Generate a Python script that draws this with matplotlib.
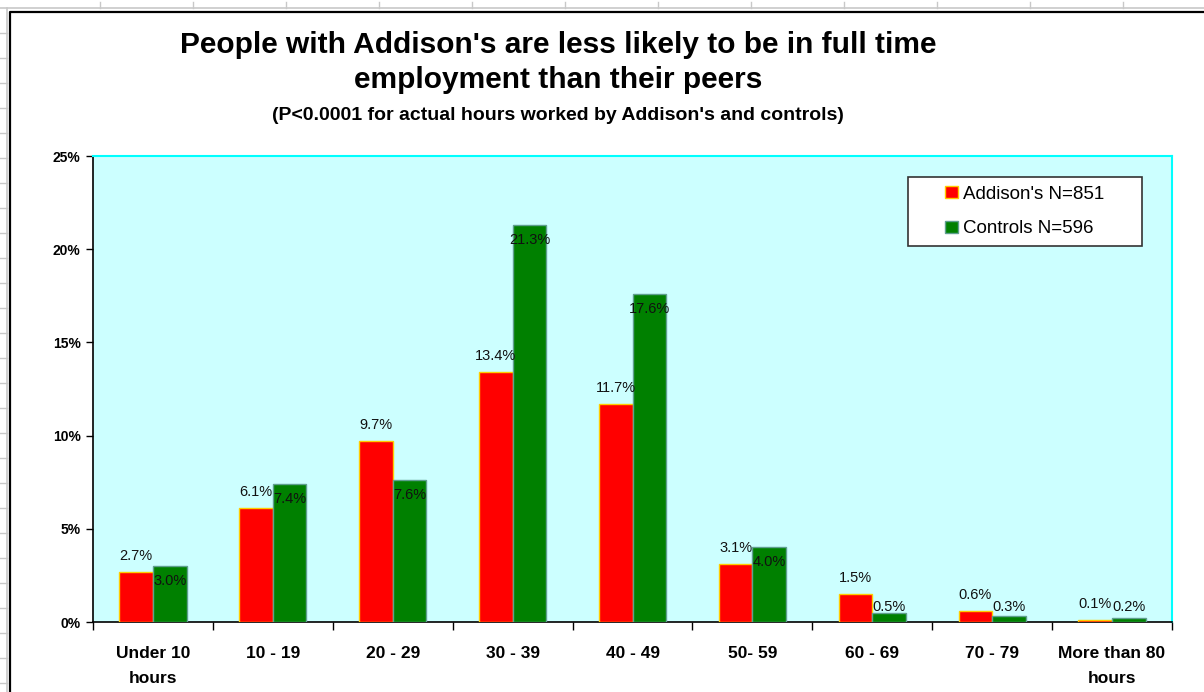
import matplotlib
matplotlib.use("Agg")
import matplotlib.pyplot as plt
from matplotlib.lines import Line2D
from matplotlib.patches import Rectangle
import numpy as np

plt.rcParams['font.family'] = ['Liberation Sans', 'DejaVu Sans']

# hours worked per week, share of each group (%)
categories = ["Under 10\nhours", "10 - 19", "20 - 29", "30 - 39", "40 - 49",
              "50- 59", "60 - 69", "70 - 79", "More than 80\nhours"]
addisons = [2.7, 6.1, 9.7, 13.4, 11.7, 3.1, 1.5, 0.6, 0.1]
controls = [3.0, 7.4, 7.6, 21.3, 17.6, 4.0, 0.5, 0.3, 0.2]
series_names = ["Addison's N=851", "Controls N=596"]
y_ticks = [0, 5, 10, 15, 20, 25]

W, H = 1204, 692
fig = plt.figure(figsize=(W / 100, H / 100), dpi=100)
fig.patch.set_facecolor("white")


def px(x, y):
    # pixel position -> figure fraction
    return x / W, 1 - y / H


# spreadsheet gridlines around the chart object
grid_col = "#c8c8c8"
fig.add_artist(Line2D([0, 1], [1 - 8 / H] * 2, color=grid_col, lw=1.2))
fig.add_artist(Line2D([7 / W] * 2, [0, 1 - 8 / H], color=grid_col, lw=1.2))
for gx in np.arange(100, W, 93):
    fig.add_artist(Line2D([gx / W] * 2, [1 - 2 / H, 1 - 8 / H], color=grid_col, lw=1))
for gy in np.arange(33, H, 25):
    fig.add_artist(Line2D([0, 7 / W], [1 - gy / H] * 2, color=grid_col, lw=1))
# chart border
fig.add_artist(Line2D([10 / W, 10 / W, 1], [0, 1 - 12 / H, 1 - 12 / H], color="black", lw=1.6))

# plot area
left, right, top, bottom = 93, 1172, 156, 622
ax = fig.add_axes([left / W, 1 - bottom / H, (right - left) / W, (bottom - top) / H])
ax.set_facecolor("#ccffff")

x = np.arange(len(categories))
bw = 0.28
ax.bar(x - bw / 2, addisons, width=bw, color="#ff0000", edgecolor="#ffcc00",
       linewidth=1, label=series_names[0], zorder=3)
ax.bar(x + bw / 2, controls, width=bw, color="#008000", edgecolor="#5f9f8f",
       linewidth=1, label=series_names[1], zorder=3)

for xi, v in zip(x, addisons):
    ax.text(xi - bw / 2, v + 0.85, f"{v:.1f}%", ha="center", va="center",
            fontsize=10.5, color="#111111", zorder=4)
for xi, v in zip(x, controls):
    ax.text(xi + bw / 2, max(v - 0.8, 0.8), f"{v:.1f}%", ha="center", va="center",
            fontsize=10.5, color="#111111", zorder=4)

ax.set_xlim(-0.5, len(categories) - 0.5)
ax.set_ylim(0, 25)
ax.set_yticks(y_ticks)
ax.set_yticklabels([f"{t}%" for t in y_ticks], fontsize=10, fontweight="bold")
ax.tick_params(axis="y", direction="out", length=5, width=1, pad=4)

ax.set_xticks(np.arange(len(categories) + 1) - 0.5)
ax.set_xticklabels([])
ax.tick_params(axis="x", which="major", direction="out", length=6, width=1)
ax.set_xticks(x, minor=True)
ax.set_xticklabels(categories, minor=True, fontsize=12.5, fontweight="bold",
                   linespacing=1.85)
ax.tick_params(axis="x", which="minor", length=0, pad=17)

for side in ["left", "bottom"]:
    ax.spines[side].set_color("black")
    ax.spines[side].set_linewidth(1.2)
for side in ["top", "right"]:
    ax.spines[side].set_color("#00ffff")
    ax.spines[side].set_linewidth(1.5)

# legend box drawn separately so its padding can be wide
lx0, lx1, ly0, ly1 = 908, 1142, 177, 246
bx = (lx0 - left) / (right - left)
bwid = (lx1 - lx0) / (right - left)
by = (bottom - ly1) / (bottom - top)
bht = (ly1 - ly0) / (bottom - top)
ax.add_patch(Rectangle((bx, by), bwid, bht, transform=ax.transAxes,
                       facecolor="white", edgecolor="#333333", lw=1.2, zorder=5))
leg = ax.legend(loc="center", bbox_to_anchor=(bx + bwid / 2, by + bht / 2),
                fontsize=13.5, frameon=False, borderpad=0,
                handlelength=0.65, handleheight=0.65, handletextpad=0.3,
                labelspacing=0.95, borderaxespad=0)
leg.set_zorder(6)

fig.text(*px(558, 45), "People with Addison's are less likely to be in full time",
         ha="center", va="center", fontsize=21.5, fontweight="bold")
fig.text(*px(558, 80), "employment than their peers",
         ha="center", va="center", fontsize=21.5, fontweight="bold")
fig.text(*px(558, 115), "(P<0.0001 for actual hours worked by Addison's and controls)",
         ha="center", va="center", fontsize=14, fontweight="bold")

fig.savefig("out.png", dpi=100)
